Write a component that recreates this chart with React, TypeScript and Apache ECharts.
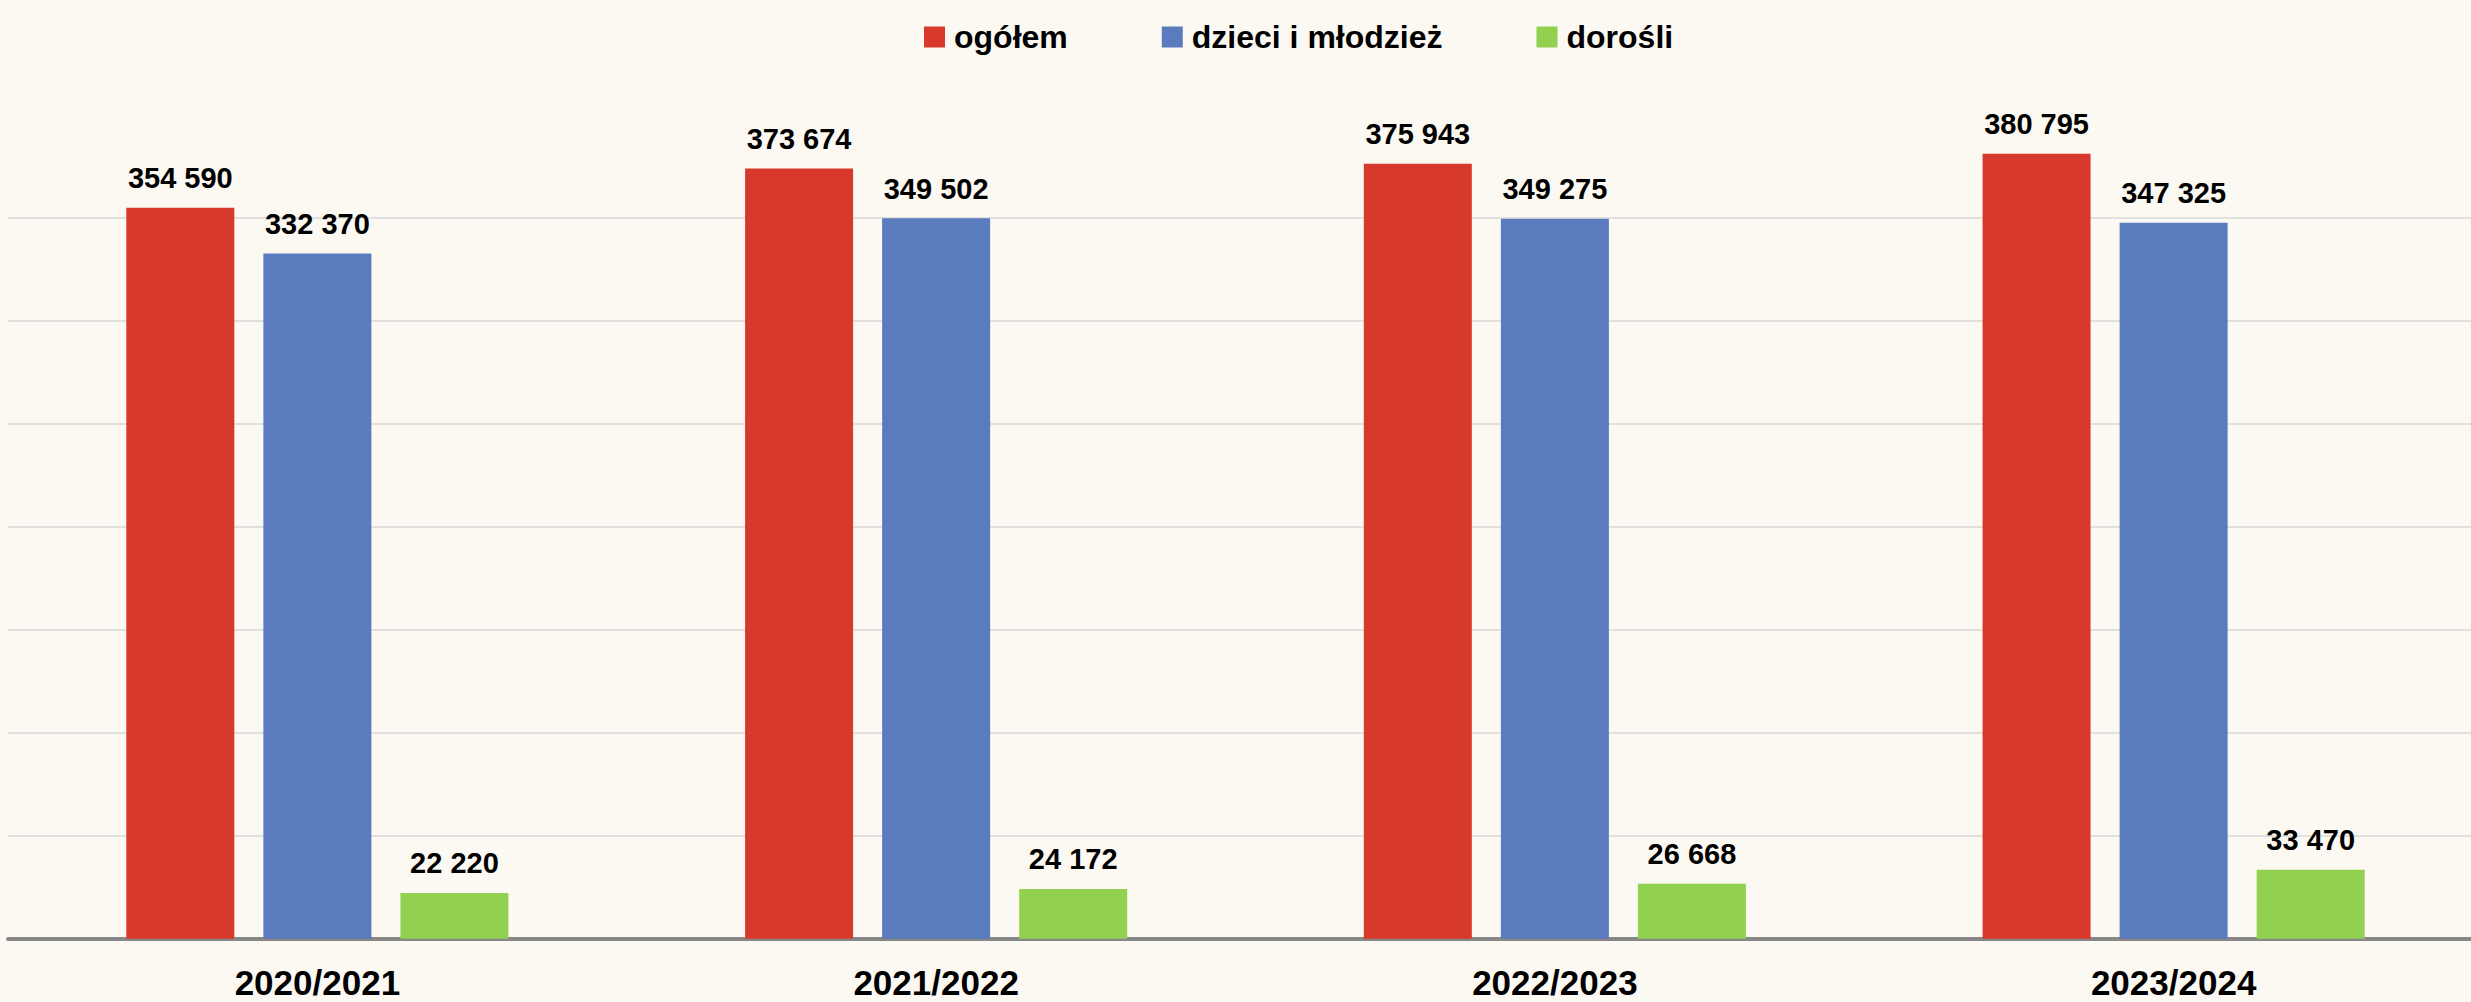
import React, { useEffect, useRef } from "react";
import * as echarts from "echarts";

const categories = ["2020/2021", "2021/2022", "2022/2023", "2023/2024"];
const seriesNames = ["ogółem", "dzieci i młodzież", "dorośli"];
const ogolem = [354590, 373674, 375943, 380795];
const dzieci = [332370, 349502, 349275, 347325];
const dorosli = [22220, 24172, 26668, 33470];
const colors = ["#d8392d", "#5a7bbd", "#92d050"];

const FONT = "'Liberation Sans', Arial, sans-serif";

const fmt = (v: number) => String(v).replace(/\B(?=(\d{3})+(?!\d))/g, " ");

export default function App() {
  const ref = useRef<HTMLDivElement>(null);
  useEffect(() => {
    if (!ref.current) return;
    const chart = echarts.init(ref.current, undefined, { renderer: "svg" });
    const mk = (name: string, data: number[], color: string) => ({
      name,
      type: "bar",
      data,
      barWidth: 108,
      barGap: "26.9%",
      itemStyle: { color },
      label: {
        show: true,
        position: "top",
        distance: 15,
        formatter: (p: any) => fmt(p.value),
        color: "#000",
        fontFamily: FONT,
        fontWeight: "bold",
        fontSize: 29,
      },
    });
    chart.setOption({
      animation: false,
      backgroundColor: "#fcf8f2",
      legend: {
        left: 919,
        top: 16,
        itemWidth: 21,
        itemHeight: 21,
        itemGap: 94,
        icon: "rect",
        data: seriesNames,
        textStyle: {
          fontFamily: FONT,
          fontWeight: "bold",
          fontSize: 32,
          color: "#000",
          padding: [0, 0, 0, 4],
        },
      },
      grid: {
        left: 8,
        width: 2475,
        top: 114.2,
        bottom: 63.3,
        containLabel: false,
        outerBoundsMode: "none",
      },
      xAxis: {
        type: "category",
        data: categories,
        axisTick: { show: false },
        axisLine: { lineStyle: { color: "#878787", width: 4 } },
        axisLabel: {
          margin: 26,
          color: "#000",
          fontFamily: FONT,
          fontWeight: "bold",
          fontSize: 35,
          lineHeight: 35,
        },
      },
      yAxis: {
        type: "value",
        min: 0,
        max: 400000,
        interval: 50000,
        axisLabel: { show: false },
        axisLine: { show: false },
        axisTick: { show: false },
        splitLine: {
          show: true,
          showMaxLine: false,
          lineStyle: { color: "#d9d9d9", width: 1.5 },
        },
      },
      series: [
        mk(seriesNames[0], ogolem, colors[0]),
        mk(seriesNames[1], dzieci, colors[1]),
        mk(seriesNames[2], dorosli, colors[2]),
      ],
    });
    return () => chart.dispose();
  }, []);
  return (
    <div
      ref={ref}
      style={{ position: "fixed", left: 0, top: 0, width: 2471, height: 1002 }}
    />
  );
}
